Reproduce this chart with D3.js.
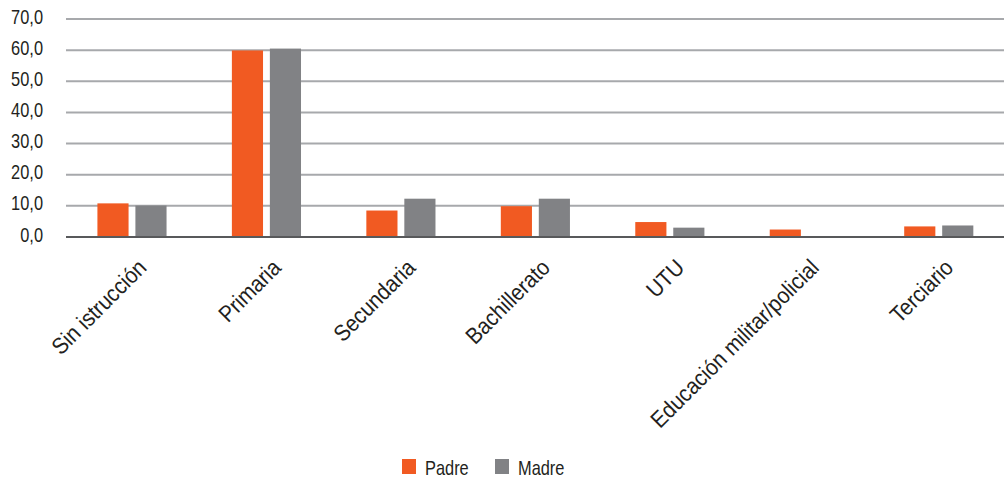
<!DOCTYPE html>
<html><head><meta charset="utf-8">
<script src="https://cdn.jsdelivr.net/npm/d3@7"></script>
<style>
body{margin:0;background:#fff;}
text{font-family:"Liberation Sans","Arial",sans-serif;fill:#231f20;}
</style></head><body>
<svg id="c" width="1004" height="480"></svg>
<script>
const categories = ["Sin istrucción","Primaria","Secundaria","Bachillerato","UTU","Educación militar/policial","Terciario"];
const series = ["Padre","Madre"];
const padre = [10.8, 59.9, 8.5, 9.9, 4.8, 2.4, 3.4];
const madre = [10.1, 60.5, 12.3, 12.3, 3.0, 0.0, 3.7];
const yTicks = [0,10,20,30,40,50,60,70];
const colors = ["#F15A22","#818285"];

const svg = d3.select("#c");
const x = d3.scaleBand().domain(categories).range([64.75,1006]).paddingInner(0).paddingOuter(0);
const xs = d3.scaleBand().domain(series).range([0, x.bandwidth()]).paddingInner(0.18).paddingOuter(0.86);
const y = d3.scaleLinear().domain([0,70]).range([237,19]);
const SX = 0.82;

// gridlines
svg.append("g").selectAll("line").data(yTicks.filter(d=>d>0)).join("line")
  .attr("x1",66).attr("x2",1004).attr("y1",d=>y(d)).attr("y2",d=>y(d))
  .attr("stroke","#a7a9ac").attr("stroke-width",2);

// y labels
svg.append("g").selectAll("text").data(yTicks).join("text")
  .attr("transform",d=>`translate(43,${y(d)+4.5}) scale(${SX},1)`).attr("text-anchor","end")
  .attr("font-size",20).text(d=>d.toFixed(1).replace(".",","));

const data = categories.map((c,i)=>({c, vals:[padre[i],madre[i]]}));
const g = svg.append("g").selectAll("g").data(data).join("g")
  .attr("transform",d=>`translate(${x(d.c)},0)`);
g.selectAll("rect").data(d=>d.vals.map((v,j)=>({s:series[j],v,j}))).join("rect")
  .attr("x",d=>xs(d.s)).attr("width",xs.bandwidth())
  .attr("y",d=>y(d.v)).attr("height",d=>y(0)-y(d.v))
  .attr("fill",d=>colors[d.j]);

// baseline
svg.append("line").attr("x1",66).attr("x2",1004).attr("y1",y(0)).attr("y2",y(0))
  .attr("stroke","#58595b").attr("stroke-width",2);

// x labels
svg.append("g").selectAll("text").data(categories).join("text")
  .attr("transform",d=>`translate(${x(d)+x.bandwidth()/2+16},269) rotate(-45) scale(0.9,1)`)
  .attr("text-anchor","end").attr("font-size",23).text(d=>d);

// legend
const leg = svg.append("g");
const lx = [402,495];
series.forEach((s,i)=>{
  leg.append("rect").attr("x",lx[i]).attr("y",459).attr("width",14).attr("height",15).attr("fill",colors[i]);
  leg.append("text").attr("transform",`translate(${lx[i]+23},475) scale(${SX},1)`).attr("font-size",20).text(s);
});
</script></body></html>
